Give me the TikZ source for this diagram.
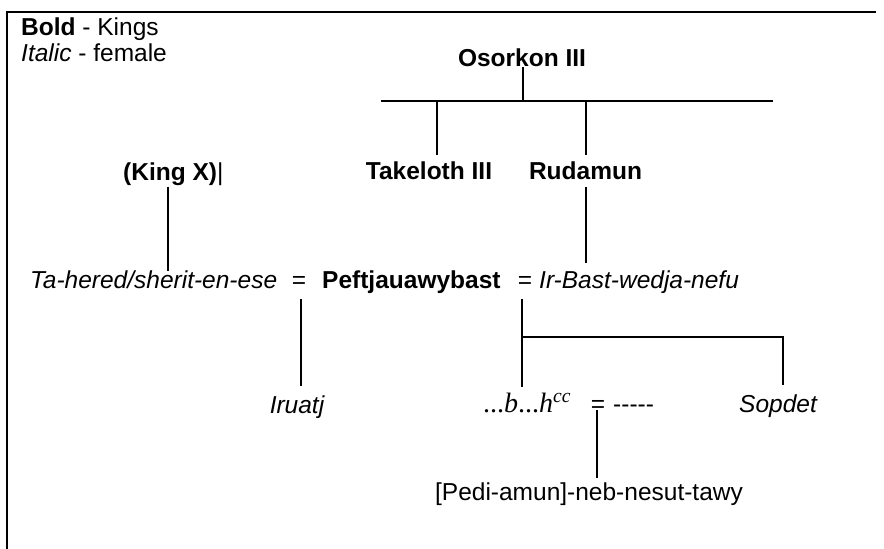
\documentclass[tikz,border=0pt]{standalone}
\usepackage{fontspec}
\setmainfont{Liberation Sans}
\newfontfamily\serifface{Liberation Serif}
\begin{document}
\begin{tikzpicture}[x=1pt,y=-1pt,
  txt/.style={inner sep=0pt, anchor=base, font=\fontsize{24.5}{28}\selectfont},
  king/.style={txt, font=\fontsize{24.5}{28}\selectfont\bfseries},
  fem/.style={txt, font=\fontsize{24.5}{28}\selectfont\itshape},
  link/.style={line width=1.3pt},
  frame/.style={line width=2.6pt}]
\useasboundingbox (0,0) rectangle (884,549);
\draw[frame] (7,549) -- (7,12) -- (876,12);

% legend
\node[txt, anchor=base west] (leg1) at (21,35) {\textbf{Bold} - Kings};
\node[txt, anchor=base west] (leg2) at (21,61) {\textit{Italic} - female};

% people
\node[king] (osorkon) at (522,66) {Osorkon III};
\node[king] (takeloth) at (429,179) {Takeloth III};
\node[king] (rudamun) at (585.5,179) {Rudamun};
\node[txt, anchor=base west] (kingx) at (123,180) {\textbf{(King X)}|};
\node[fem, anchor=base west] (tahered) at (30,288) {Ta-hered/sherit-en-ese};
\node[txt] (eq1) at (299,288) {=};
\node[king, anchor=base west] (peft) at (322,288) {Peftjauawybast};
\node[txt] (eq2) at (525,288) {=};
\node[fem, anchor=base west] (irbast) at (539,288) {Ir-Bast-wedja-nefu};
\node[fem] (iruatj) at (297,413) {Iruatj};
\node[txt, anchor=base west, font=\fontsize{28}{32}\selectfont\serifface] (bh) at (483,412) {...\textit{b}...\textit{h}\textsuperscript{\textit{cc}}};
\node[txt] (eq3) at (598,412) {=};
\node[txt, anchor=base west] (dashes) at (613,412) {-\kern0pt-\kern0pt-\kern0pt-\kern0pt-};
\node[fem] (sopdet) at (778,412) {Sopdet};
\node[txt] (pedi) at (589,500) {[Pedi-amun]-neb-nesut-tawy};

% connector end points
\coordinate (osD) at (523,67);
\coordinate (bar) at (523,101);
\coordinate (barL) at (381,101);
\coordinate (barR) at (773,101);
\coordinate (tkU) at (437,101);
\coordinate (tkD) at (437,155);
\coordinate (rdU) at (586,101);
\coordinate (rdD) at (586,155);
\coordinate (rdB) at (586,187);
\coordinate (irU) at (586,263);
\coordinate (kxB) at (168,187);
\coordinate (thU) at (168,271);
\coordinate (eqB) at (301,299);
\coordinate (iruU) at (301,386);
\coordinate (pfB) at (522,299);
\coordinate (sibJ) at (522,337);
\coordinate (bhU) at (522,387);
\coordinate (sibR) at (783,337);
\coordinate (spU) at (783,385);
\coordinate (eq3B) at (597,410);
\coordinate (pdU) at (597,478);

% connectors
\draw[link] (osD) -- (bar);
\draw[link] (barL) -- (barR);
\draw[link] (tkU) -- (tkD);
\draw[link] (rdU) -- (rdD);
\draw[link] (rdB) -- (irU);
\draw[link] (kxB) -- (thU);
\draw[link] (eqB) -- (iruU);
\draw[link] (pfB) -- (sibJ) -- (bhU);
\draw[link] (sibJ) -- (sibR) -- (spU);
\draw[link] (eq3B) -- (pdU);
\end{tikzpicture}
\end{document}
